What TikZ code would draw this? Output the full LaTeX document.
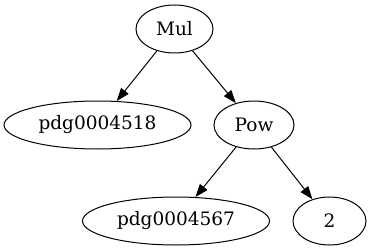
\documentclass[tikz,border=0pt]{standalone}
\usepackage{fontspec}
\setmainfont{DejaVu Serif}
\usetikzlibrary{
  arrows.meta,
  shapes.geometric
}

\begin{document}
\begin{tikzpicture}[
  x=1pt, y=-1pt,
  term/.style={draw, ellipse, line width=1pt, inner sep=0pt, minimum height=48pt,
               font=\fontsize{18.5}{20}\selectfont},
  arr/.style={-{Triangle[length=13pt, width=9.5pt]}, line width=1pt}
]
  \useasboundingbox (0,0) rectangle (371,251);

  % Mul node
  \node[term, minimum width=77pt] (mul) at (174.5, 29) {Mul};

  % operands of Mul
  \node[term, minimum width=187pt] (pdga) at (97.5, 125) {pdg0004518};
  \node[term, minimum width=80pt] (pow) at (254, 125) {Pow};

  % operands of Pow
  \node[term, minimum width=187pt] (pdgb) at (176, 221) {pdg0004567};
  \node[term, minimum width=73pt] (two) at (329.5, 221) {2};

  \draw[arr] (mul) -- (pdga);
  \draw[arr] (mul) -- (pow);
  \draw[arr] (pow) -- (pdgb);
  \draw[arr] (pow) -- (two);
\end{tikzpicture}
\end{document}
